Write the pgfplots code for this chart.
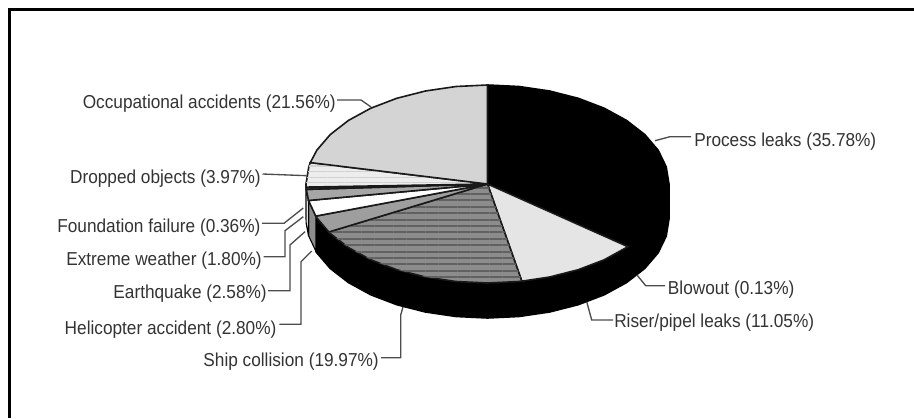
\documentclass[border=0pt]{standalone}
\usepackage{pgfplots}
\pgfplotsset{compat=1.18}
\usepackage{fontspec}
\setmainfont[FakeStretch=0.92]{Liberation Sans}
\usetikzlibrary{patterns.meta}

% wedge outlines in picture pixels
\newcommand{\slice}[2]{\addplot[draw=black!90, line width=1.2pt, fill=#1] coordinates {#2} -- cycle;}
\newcommand{\leader}[1]{\addplot[draw=black!70, line width=1pt] coordinates {#1};}

\begin{document}
\begin{tikzpicture}
\path[use as bounding box] (0,0) rectangle (685.5pt,313.5pt);
\begin{axis}[
    at={(0,0)}, anchor=south west,
    width=685.5pt, height=313.5pt, scale only axis,
    xmin=0, xmax=914, ymin=0, ymax=418, y dir=reverse,
    axis lines=none, clip=true,
    nodes={font=\fontsize{14.05}{16}\selectfont, text=black!80, inner sep=0pt},
]
% page frame, only top and left fall inside the crop
\addplot[draw=black, line width=2.4pt] coordinates {(9.5,418) (9.5,9.5) (914,9.5)};

% side of the disc
\addplot[draw=black, line width=1.2pt, fill=black] coordinates {
 (669,184) (666.2,201.2) (658.1,217.9) (644.7,233.5) (626.5,247.6) (604.2,259.8) (578.25,269.7) (549.6,277) (519,281.5) (487.5,283)
 (456,281.5) (425.4,277) (396.75,269.7) (370.8,259.8) (348.5,247.6) (330.3,233.5) (316.9,217.9) (315.8,216.1)
 (315.8,251.1) (316.9,252.9) (330.3,268.5) (348.5,282.6) (370.8,294.8) (396.75,304.7) (425.4,312) (456,316.5) (487.5,318)
 (519,316.5) (549.6,312) (578.25,304.7) (604.2,294.8) (626.5,282.6) (644.7,268.5) (658.1,252.9) (666.2,236.2) (669,219)} -- cycle;
\addplot[draw=black, line width=0.8pt, fill=black!45] coordinates {
 (315.8,216.1) (308.8,201.2) (308.5,200.5) (308.5,235.5) (308.8,236.2) (315.8,251.1)} -- cycle;
\addplot[draw=black, line width=0.8pt, fill=white] coordinates {
 (308.5,200.5) (306.3,189.4) (306,184) (306,219) (306.3,224.4) (308.5,235.5)} -- cycle;

% top face, clockwise from twelve o'clock
\addplot[draw=black, line width=1.2pt, fill=black] coordinates {(487.5,184) (487.5,85) (519,86.5) (549.6,91) (578.25,98.3) (604.2,108.2) (626.5,120.4) (644.7,134.5) (658.1,150.1) (666.2,166.8) (669,184) (666.2,201.2) (658.1,217.9) (644.7,233.5) (628.9,246)} -- cycle;
\slice{black!10}{(487.5,184) (627.9,246.7) (604.2,259.8) (578.25,269.7) (549.6,277) (521.8,281.2)}
\slice{black!45}{(487.5,184) (521.8,281.2) (519,281.5) (487.5,283) (456,281.5) (425.4,277) (396.75,269.7) (370.8,259.8) (348.5,247.6) (330.3,233.5) (328.8,232)}
\addplot[draw=none, pattern={Lines[angle=0, distance=4.8pt, line width=1.5pt]}, pattern color=black!62] coordinates {(487.5,184) (521.8,281.2) (519,281.5) (487.5,283) (456,281.5) (425.4,277) (396.75,269.7) (370.8,259.8) (348.5,247.6) (330.3,233.5) (328.8,232)} -- cycle;
\slice{black!38}{(487.5,184) (328.8,232) (316.9,217.9) (315.8,216.1)}
\slice{white}{(487.5,184) (315.8,216.1) (308.8,201.2) (308.5,200.5)}
\slice{black!35}{(487.5,184) (308.5,200.5) (306.3,189.4)}
\slice{black!80}{(487.5,184) (306.3,189.4) (306.1,187.1)}
\slice{black!7}{(487.5,184) (306.1,187.1) (306,184) (308.8,166.8) (310.3,162.6)}
\addplot[draw=none, pattern={Lines[angle=0, distance=4.2pt, line width=1pt]}, pattern color=black!18] coordinates {(487.5,184) (306.1,187.1) (306,184) (308.8,166.8) (310.3,162.6)} -- cycle;
\slice{black!17}{(487.5,184) (310.3,162.6) (316.9,150.1) (330.3,134.5) (348.5,120.4) (370.8,108.2) (396.75,98.3) (425.4,91) (456,86.5) (487.5,85)}

% leader lines
\leader{(655,140.7) (670,136.7) (691,136.7)}
\leader{(637,275) (645.7,285.7) (665,285.7)}
\leader{(586.7,301.7) (591.7,320) (613,320)}
\leader{(403,307) (400.7,315) (400.7,357.7) (381,357.7)}
\leader{(311.7,251) (301,261.7) (301,324.3) (279.3,324.3)}
\leader{(305,231.7) (290,245) (290,290.7) (268,290.7)}
\leader{(303.3,216.7) (285,230.7) (285,256.7) (263.5,256.7)}
\leader{(303.3,208) (284,223.3) (262,223.3)}
\leader{(262.5,174) (306.7,175.7)}
\leader{(337,100) (361,100) (371,107)}

% labels
\node[anchor=west] at (axis cs:694,141.5) {Process leaks (35.78\%)};
\node[anchor=west] at (axis cs:667.7,289.5) {Blowout (0.13\%)};
\node[anchor=west] at (axis cs:614,323) {Riser/pipel leaks (11.05\%)};
\node[anchor=east] at (axis cs:379,361.5) {Ship collision (19.97\%)};
\node[anchor=east] at (axis cs:276.7,329.5) {Helicopter accident (2.80\%)};
\node[anchor=east] at (axis cs:267,294) {Earthquake (2.58\%)};
\node[anchor=east] at (axis cs:262,260.5) {Extreme weather (1.80\%)};
\node[anchor=east] at (axis cs:260.7,227.5) {Foundation failure (0.36\%)};
\node[anchor=east] at (axis cs:261,178.5) {Dropped objects (3.97\%)};
\node[anchor=east] at (axis cs:336,103.5) {Occupational accidents (21.56\%)};
\end{axis}
\end{tikzpicture}
\end{document}
